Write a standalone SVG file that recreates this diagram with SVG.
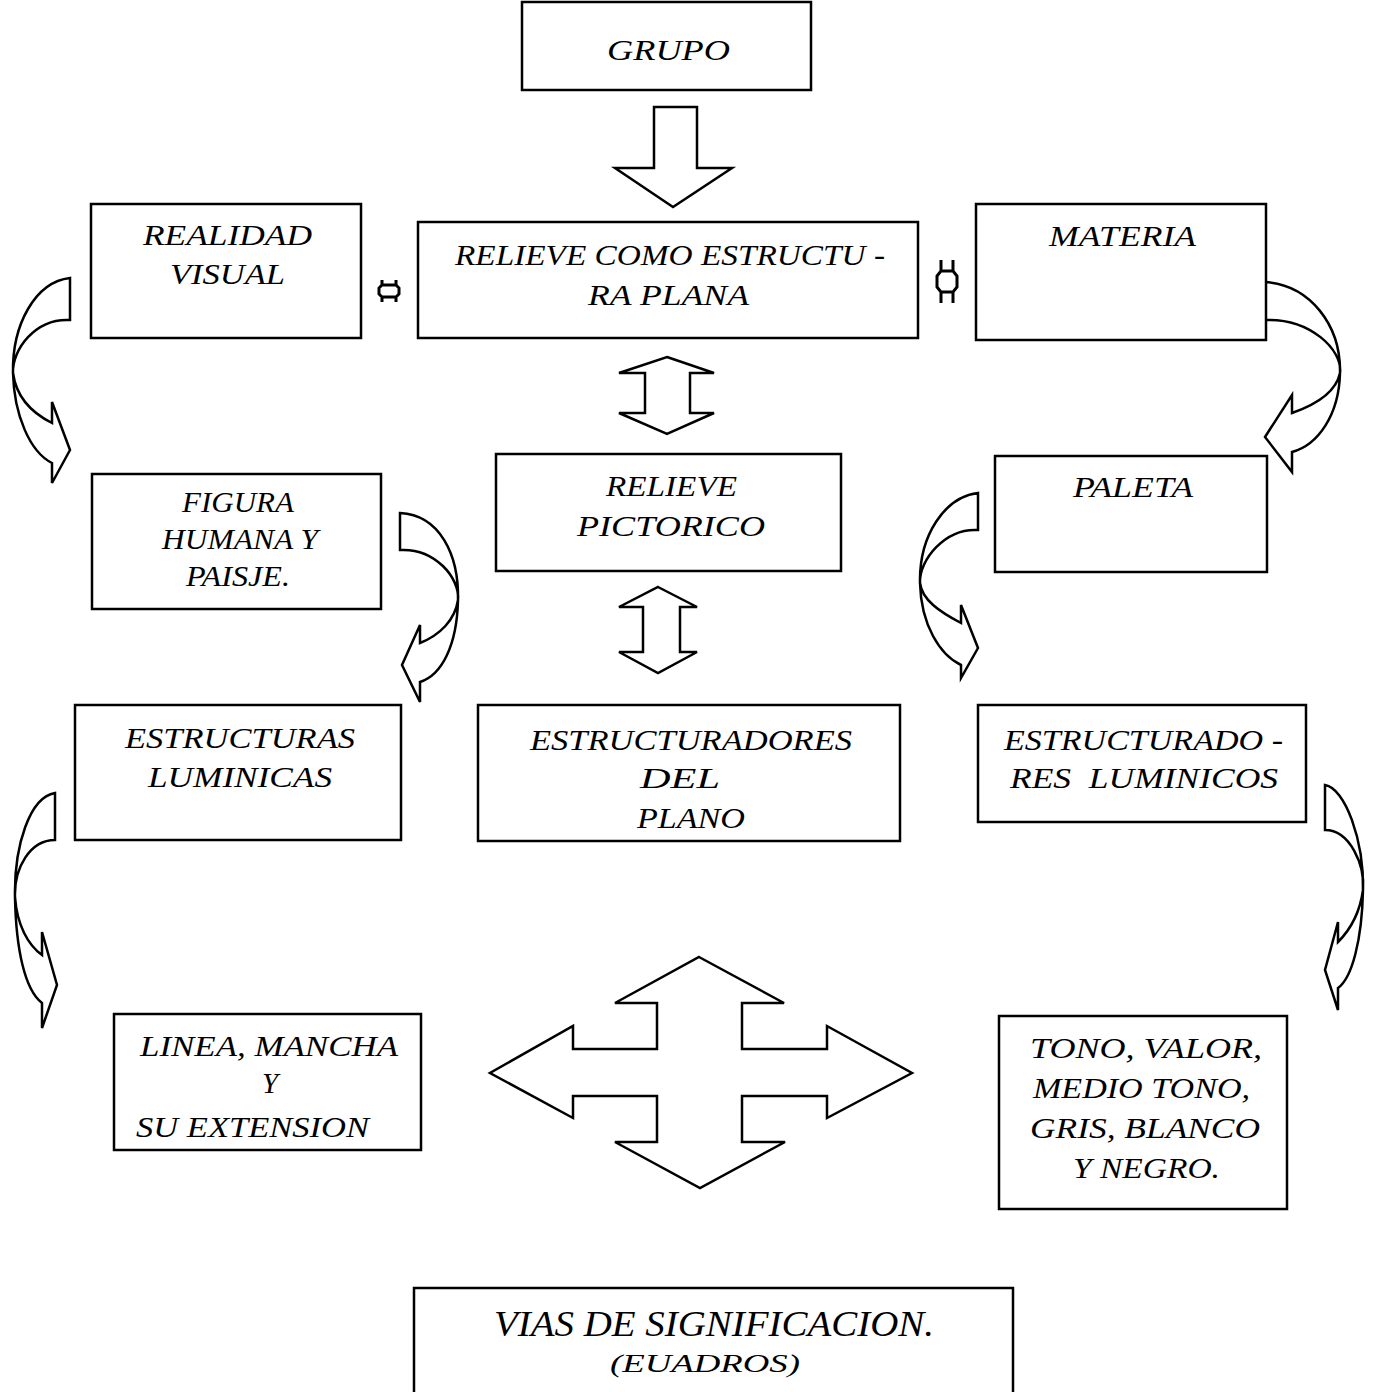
<svg xmlns="http://www.w3.org/2000/svg" width="1376" height="1392" viewBox="0 0 1376 1392">
<style>
.box{fill:#fff;stroke:#000;stroke-width:2.5}
.arr{fill:#fff;stroke:#000;stroke-width:2.5;stroke-linejoin:miter}
.sym{fill:none;stroke:#000;stroke-width:3}
.t{font-family:"Liberation Serif","DejaVu Serif",serif;font-style:italic;font-size:30px;fill:#000}
.big{font-size:36px}
.small{font-size:26px}
</style>
<rect width="1376" height="1392" fill="#fff"/>
<g id="connectors">
<polygon class="arr" points="654,107 697,107 697,168 732,168 673,207 615,168 654,168"/>
<polygon class="arr" points="667,357 714,373 690,373 690,413 714,413 667,434 619,413 645,413 645,373 619,373"/>
<polygon class="arr" points="658,587 697,607 680,607 680,652 697,652 658,673 619,652 643,652 643,607 619,607"/>
<polygon class="arr" points="699,957 784,1003 742,1003 742,1049 827,1049 827,1026 912,1073 827,1118 827,1096 742,1096 742,1142 785,1142 700,1188 615,1142 657,1142 657,1096 573,1096 573,1118 490,1073 573,1026 573,1049 657,1049 657,1003 615,1003"/>
<path class="arr" d="M70,278 C35,282 12,325 13,373 C14,415 30,452 52,463 L52,483 L70,450 L52,402 L52,423 C30,412 16,395 13,373 C12,350 35,318 70,320 Z"/>
<path class="arr" d="M978,493 C945,497 919,535 920,583 C921,625 940,655 961,665 L961,678 L978,648 L961,605 L961,623 C940,612 922,600 920,583 C919,560 945,528 978,530 Z"/>
<path class="arr" d="M55,793 C30,797 14,845 15,897 C16,950 25,990 42,1003 L42,1028 L57,985 L42,932 L42,955 C28,945 17,925 15,897 C14,868 30,840 55,840 Z"/>
<path class="arr" d="M1265,282 C1310,285 1341,325 1340,373 C1339,415 1318,445 1292,452 L1292,472 L1265,437 L1292,395 L1292,413 C1315,405 1336,392 1340,373 C1343,350 1310,318 1265,320 Z"/>
<path class="arr" d="M400,513 C440,515 459,555 458,600 C457,645 442,675 420,682 L420,702 L402,665 L420,625 L420,643 C440,635 455,620 458,600 C460,578 435,548 400,550 Z"/>
<path class="arr" d="M1325,785 C1345,788 1364,840 1363,890 C1362,940 1352,978 1338,988 L1338,1010 L1325,970 L1338,922 L1338,942 C1350,930 1360,912 1363,890 C1365,865 1350,830 1325,830 Z"/>
<path class="sym" d="M382,280 L382,285 L379,288 L379,294 L382,297 L382,302 M396,280 L396,285 L399,288 L399,294 L396,297 L396,302 M382,285 L396,285 M382,297 L396,297"/>
<path class="sym" d="M941,260 L941,271 L937,276 L937,287 L941,292 L941,303 M953,260 L953,271 L957,276 L957,287 L953,292 L953,303 M941,271 L953,271 M941,292 L953,292"/>
</g>
<g id="grupo"><rect class="box" x="522" y="2" width="289" height="88"/><text class="t" x="607" y="60" textLength="123" lengthAdjust="spacingAndGlyphs">GRUPO</text></g>
<g id="realidad"><rect class="box" x="91" y="204" width="270" height="134"/><text class="t" x="143" y="245" textLength="169" lengthAdjust="spacingAndGlyphs">REALIDAD</text><text class="t" x="170" y="284" textLength="115" lengthAdjust="spacingAndGlyphs">VISUAL</text></g>
<g id="relieve-plana"><rect class="box" x="418" y="222" width="500" height="116"/><text class="t" x="455" y="265" textLength="430" lengthAdjust="spacingAndGlyphs">RELIEVE COMO ESTRUCTU -</text><text class="t" x="588" y="305" textLength="161" lengthAdjust="spacingAndGlyphs">RA PLANA</text></g>
<g id="materia"><rect class="box" x="976" y="204" width="290" height="136"/><text class="t" x="1049" y="246" textLength="147" lengthAdjust="spacingAndGlyphs">MATERIA</text></g>
<g id="figura"><rect class="box" x="92" y="474" width="289" height="135"/><text class="t" x="182" y="512" textLength="112" lengthAdjust="spacingAndGlyphs">FIGURA</text><text class="t" x="162" y="549" textLength="156" lengthAdjust="spacingAndGlyphs">HUMANA Y</text><text class="t" x="186" y="586" textLength="104" lengthAdjust="spacingAndGlyphs">PAISJE.</text></g>
<g id="pictorico"><rect class="box" x="496" y="454" width="345" height="117"/><text class="t" x="606" y="496" textLength="131" lengthAdjust="spacingAndGlyphs">RELIEVE</text><text class="t" x="577" y="536" textLength="188" lengthAdjust="spacingAndGlyphs">PICTORICO</text></g>
<g id="paleta"><rect class="box" x="995" y="456" width="272" height="116"/><text class="t" x="1073" y="497" textLength="120" lengthAdjust="spacingAndGlyphs">PALETA</text></g>
<g id="estructuras"><rect class="box" x="75" y="705" width="326" height="135"/><text class="t" x="125" y="748" textLength="230" lengthAdjust="spacingAndGlyphs">ESTRUCTURAS</text><text class="t" x="148" y="787" textLength="184" lengthAdjust="spacingAndGlyphs">LUMINICAS</text></g>
<g id="estructuradores-plano"><rect class="box" x="478" y="705" width="422" height="136"/><text class="t" x="530" y="750" textLength="322" lengthAdjust="spacingAndGlyphs">ESTRUCTURADORES</text><text class="t" x="640" y="788" textLength="80" lengthAdjust="spacingAndGlyphs">DEL</text><text class="t" x="637" y="828" textLength="108" lengthAdjust="spacingAndGlyphs">PLANO</text></g>
<g id="estructuradores-luminicos"><rect class="box" x="978" y="705" width="328" height="117"/><text class="t" x="1004" y="750" textLength="279" lengthAdjust="spacingAndGlyphs">ESTRUCTURADO -</text><text class="t" x="1010" y="788" textLength="268" lengthAdjust="spacingAndGlyphs" xml:space="preserve">RES  LUMINICOS</text></g>
<g id="linea"><rect class="box" x="114" y="1014" width="307" height="136"/><text class="t" x="140" y="1056" textLength="258" lengthAdjust="spacingAndGlyphs">LINEA, MANCHA</text><text class="t" x="262" y="1093" textLength="16" lengthAdjust="spacingAndGlyphs">Y</text><text class="t" x="136" y="1137" textLength="233" lengthAdjust="spacingAndGlyphs">SU EXTENSION</text></g>
<g id="tono"><rect class="box" x="999" y="1016" width="288" height="193"/><text class="t" x="1030" y="1058" textLength="232" lengthAdjust="spacingAndGlyphs">TONO, VALOR,</text><text class="t" x="1033" y="1098" textLength="217" lengthAdjust="spacingAndGlyphs">MEDIO TONO,</text><text class="t" x="1030" y="1138" textLength="230" lengthAdjust="spacingAndGlyphs">GRIS, BLANCO</text><text class="t" x="1073" y="1178" textLength="147" lengthAdjust="spacingAndGlyphs">Y NEGRO.</text></g>
<g id="vias"><rect class="box" x="414" y="1288" width="599" height="110"/><text class="t big" x="494" y="1336" textLength="440" lengthAdjust="spacingAndGlyphs">VIAS DE SIGNIFICACION.</text><text class="t small" x="610" y="1372" textLength="190" lengthAdjust="spacingAndGlyphs">(EUADROS)</text></g>
</svg>
